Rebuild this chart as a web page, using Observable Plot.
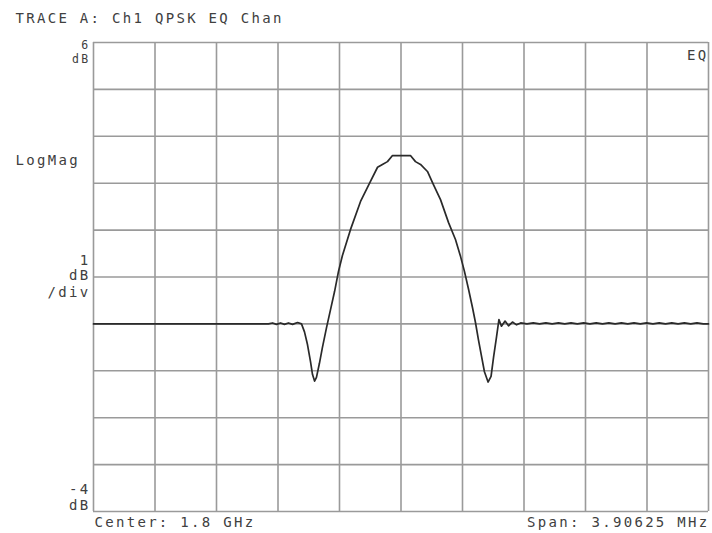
<!DOCTYPE html>
<html>
<head>
<meta charset="utf-8">
<script src="https://cdn.jsdelivr.net/npm/d3@7"></script>
<script src="https://cdn.jsdelivr.net/npm/@observablehq/plot@0.6"></script>
<style>
  html, body { margin: 0; padding: 0; background: #fff; }
  svg text { letter-spacing: 2.3px; }
</style>
</head>
<body>
<div id="chart"></div>
<script>
// Frequency offset from center (MHz) and equalizer channel response (dB)
const freqMHz = [
  -1.953, -0.842, -0.816, -0.791, -0.765, -0.740, -0.715, -0.689, -0.657, -0.632,
  -0.613, -0.594, -0.575, -0.562, -0.549, -0.537, -0.518, -0.499, -0.473, -0.448,
  -0.422, -0.397, -0.372, -0.321, -0.257, -0.194, -0.149, -0.118, -0.086, -0.054,
  0.060, 0.092, 0.124, 0.168, 0.206, 0.251, 0.302, 0.346, 0.378, 0.403,
  0.429, 0.454, 0.473, 0.492, 0.511, 0.530, 0.553, 0.572, 0.588, 0.607,
  0.622, 0.638, 0.661, 0.683, 0.708, 0.734,
  0.76, 0.80, 0.84, 0.88, 0.92, 0.96, 1.00, 1.04, 1.08, 1.12,
  1.16, 1.20, 1.24, 1.28, 1.32, 1.36, 1.40, 1.44, 1.48, 1.52,
  1.56, 1.60, 1.64, 1.68, 1.72, 1.76, 1.80, 1.84, 1.88, 1.92, 1.953
];
const levelDb = [
  0, 0, 0.02, -0.01, 0.02, -0.01, 0.02, -0.01, 0.03, 0,
  -0.17, -0.44, -0.80, -1.08, -1.22, -1.14, -0.84, -0.50, -0.08, 0.30,
  0.69, 1.12, 1.46, 2.01, 2.61, 3.04, 3.34, 3.40, 3.46, 3.59,
  3.59, 3.46, 3.40, 3.25, 2.97, 2.65, 2.16, 1.80, 1.44, 1.12,
  0.74, 0.35, 0.03, -0.34, -0.68, -1.02, -1.24, -1.12, -0.71, -0.27,
  0.09, -0.05, 0.06, -0.04, 0.04, -0.02,
  0.02, 0, 0.02, 0, 0.02, 0, 0.02, 0, 0.02, 0,
  0.02, 0, 0.02, 0, 0.02, 0, 0.02, 0, 0.02, 0,
  0.02, 0, 0.02, 0, 0.02, 0, 0.02, 0, 0.02, 0, 0.0
];
// Grid divisions
const xDivisions = [-1.953125, -1.5625, -1.171875, -0.78125, -0.390625, 0,
  0.390625, 0.78125, 1.171875, 1.5625, 1.953125];
const yDivisions = [-4, -3, -2, -1, 0, 1, 2, 3, 4, 5, 6];

const titleText = "TRACE A: Ch1 QPSK EQ Chan";
const scaleLabel = "LogMag";
const centerText = "Center: 1.8 GHz";
const spanText = "Span: 3.90625 MHz";
const eqText = "EQ";

const trace = freqMHz.map((f, i) => ({f, db: levelDb[i]}));

const font = "'DejaVu Sans Mono', monospace";
const textColor = "#404040";

const chart = Plot.plot({
  width: 712,
  height: 533,
  marginLeft: 93,
  marginRight: 4,
  marginTop: 42,
  marginBottom: 22,
  style: {fontFamily: font, fontSize: "14px", color: textColor, background: "#fff"},
  x: {domain: [-1.953125, 1.953125], axis: null},
  y: {domain: [-4, 6], axis: null},
  marks: [
    Plot.ruleX(xDivisions, {stroke: "#9a9a9a", strokeWidth: 1.6, strokeOpacity: 1}),
    Plot.ruleY(yDivisions, {stroke: "#9a9a9a", strokeWidth: 1.6, strokeOpacity: 1}),
    Plot.line(trace, {x: "f", y: "db", stroke: "#2a2a2a", strokeWidth: 1.7}),
    // Title
    Plot.text([titleText], {frameAnchor: "top-left", textAnchor: "start", lineAnchor: "middle",
      dx: -78, dy: -24, fill: textColor}),
    // Top scale label
    Plot.text(["6"], {x: -1.953125, y: 6, textAnchor: "end", lineAnchor: "middle", dx: -3, dy: 3, fill: textColor, fontSize: 11.5}),
    Plot.text(["dB"], {x: -1.953125, y: 6, textAnchor: "end", lineAnchor: "middle", dx: -3, dy: 16.5, fill: textColor, fontSize: 11.5}),
    // LogMag
    Plot.text([scaleLabel], {frameAnchor: "top-left", textAnchor: "start", lineAnchor: "middle",
      dx: -78, dy: 118, fill: textColor}),
    // 1 dB /div
    Plot.text(["1"], {x: -1.953125, y: 1, textAnchor: "end", lineAnchor: "middle", dx: -3, dy: -16, fill: textColor}),
    Plot.text(["dB"], {x: -1.953125, y: 1, textAnchor: "end", lineAnchor: "middle", dx: -3, dy: -1, fill: textColor}),
    Plot.text(["/div"], {x: -1.953125, y: 1, textAnchor: "end", lineAnchor: "middle", dx: -3, dy: 16, fill: textColor}),
    // Bottom scale label
    Plot.text(["-4"], {x: -1.953125, y: -4, textAnchor: "end", lineAnchor: "middle", dx: -3, dy: -22, fill: textColor}),
    Plot.text(["dB"], {x: -1.953125, y: -4, textAnchor: "end", lineAnchor: "middle", dx: -3, dy: -6, fill: textColor}),
    // Center / Span
    Plot.text([centerText], {frameAnchor: "bottom-left", textAnchor: "start", lineAnchor: "middle",
      dx: 1, dy: 11, fill: textColor}),
    Plot.text([spanText], {frameAnchor: "bottom-right", textAnchor: "end", lineAnchor: "middle",
      dx: 1, dy: 11, fill: textColor}),
    // EQ
    Plot.text([eqText], {frameAnchor: "top-right", textAnchor: "end", lineAnchor: "middle",
      dx: 0, dy: 13, fill: textColor})
  ]
});
document.getElementById("chart").appendChild(chart);
</script>
</body>
</html>
